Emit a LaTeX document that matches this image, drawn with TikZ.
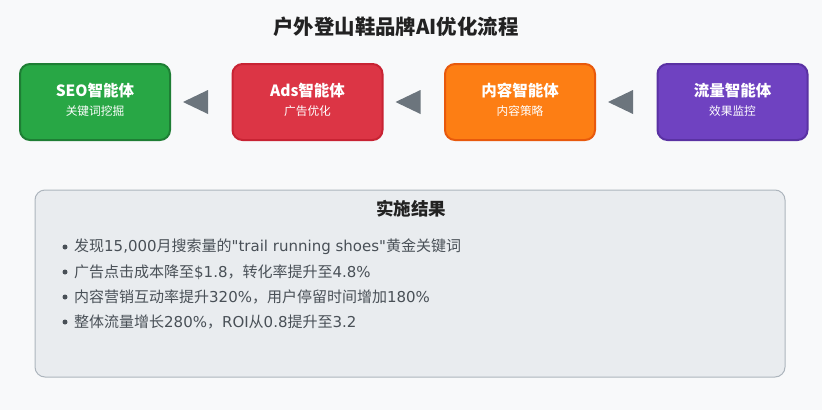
\documentclass[tikz,border=0pt]{standalone}
\usepackage{fontspec}
\setmainfont{Noto Sans CJK SC}
\newfontfamily\lat{DejaVu Sans}
\definecolor{bg}{HTML}{F8F9FA}
\definecolor{titlec}{HTML}{222222}
\definecolor{txt}{HTML}{495057}
\definecolor{gfill}{HTML}{28A745}\definecolor{gdraw}{HTML}{1E7E34}
\definecolor{rfill}{HTML}{DC3545}\definecolor{rdraw}{HTML}{C82333}
\definecolor{ofill}{HTML}{FD7E14}\definecolor{odraw}{HTML}{E8590C}
\definecolor{pfill}{HTML}{6F42C1}\definecolor{pdraw}{HTML}{5A32A3}
\definecolor{arrowc}{HTML}{6C757D}
\definecolor{resfill}{HTML}{E9ECEF}\definecolor{resdraw}{HTML}{ADB5BD}
\tikzset{
  agent/.style={rounded corners=10pt, line width=2pt, minimum width=150pt, minimum height=76pt, inner sep=0pt},
  aname/.style={text=white, font=\bfseries\fontsize{15.5}{17}\selectfont, inner sep=0pt},
  asub/.style={text=white, font=\fontsize{11.7}{13}\selectfont, inner sep=0pt},
  tri/.style={fill=arrowc},
  bullettext/.style={anchor=west, text=txt, font=\fontsize{15}{17}\selectfont, inner sep=0pt},
  dot/.style={circle, fill=txt, inner sep=0pt, minimum size=5pt}
}
\begin{document}
\begin{tikzpicture}[x=1pt,y=-1pt]
\fill[bg] (0,0) rectangle (822,410);
\useasboundingbox (0,0) rectangle (822,410);
\node[text=titlec, font=\bfseries\fontsize{20.4}{22}\selectfont] (title) at (396,27) {户外登山鞋品牌AI优化流程};
% agents
\node[agent, fill=gfill, draw=gdraw] (seo) at (95,102) {};
\node[agent, fill=rfill, draw=rdraw] (ads) at (307.5,102) {};
\node[agent, fill=ofill, draw=odraw] (cont) at (520,102) {};
\node[agent, fill=pfill, draw=pdraw] (flow) at (732.5,102) {};
\foreach \n/\a/\b in {seo/SEO智能体/关键词挖掘, ads/Ads智能体/广告优化, cont/内容智能体/内容策略, flow/流量智能体/效果监控}{
  \node[aname] (\n-t) at ([yshift=11pt]\n.center) {\a};
  \node[asub] (\n-s) at ([yshift=-9pt]\n.center) {\b};
}
% arrows
\foreach \x in {183,395.5,608}{
  \fill[tri] (\x,102) -- (\x+25,90) -- (\x+25,114) -- cycle;
}
% results
\node[rounded corners=10pt, fill=resfill, draw=resdraw, line width=1pt, minimum width=750pt, minimum height=187pt, inner sep=0pt] (res) at (410,283.5) {};
\node[text=titlec, font=\bfseries\fontsize{17.5}{19}\selectfont] (restitle) at (411,209) {实施结果};
\foreach \y/\t [count=\i] in {247/{发现{\lat 15,000}月搜索量的{\lat "trail running shoes"}黄金关键词},
  272/{广告点击成本降至{\lat \$1.8}，转化率提升至{\lat 4.8\%}},
  297/{内容营销互动率提升{\lat 320\%}，用户停留时间增加{\lat 180\%}},
  322/{整体流量增长{\lat 280\%}，{\lat ROI}从{\lat 0.8}提升至{\lat 3.2}}}{
  \node[dot] (b\i) at (65,\y) {};
  \node[bullettext] (l\i) at (74,\y) {\t};
}
\end{tikzpicture}
\end{document}
